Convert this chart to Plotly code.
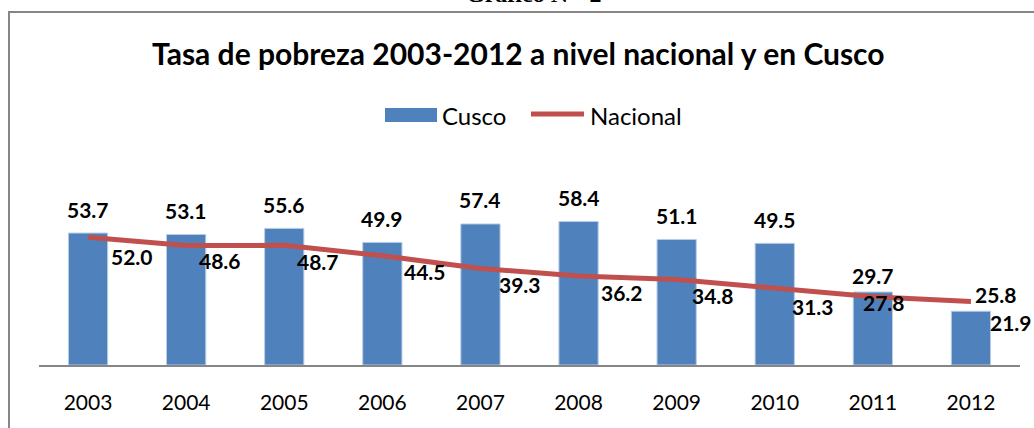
import plotly.graph_objects as go

years = ["2003", "2004", "2005", "2006", "2007", "2008", "2009", "2010", "2011", "2012"]
cusco = [53.7, 53.1, 55.6, 49.9, 57.4, 58.4, 51.1, 49.5, 29.7, 21.9]
nacional = [52.0, 48.6, 48.7, 44.5, 39.3, 36.2, 34.8, 31.3, 27.8, 25.8]

W, H = 1034, 428
def px(x):
    return x / W
def py(y):
    return 1 - y / H

BLUE = "#4F81BD"
RED = "#C0504D"
FONT = "Lato"

fig = go.Figure()
fig.add_trace(go.Bar(x=years, y=cusco, marker=dict(color=BLUE, line=dict(color="#B9CDE5", width=1)),
                     showlegend=False, hoverinfo="skip"))
fig.add_trace(go.Scatter(x=years, y=nacional, mode="lines", line=dict(color=RED, width=5),
                         showlegend=False, hoverinfo="skip"))

# label offsets in pixels (dx, dy upward)
bar_off = [(0, 24)] * 8 + [(0, 17), (40, -11)]
line_off = [(44, -19), (34, -15), (34, -16), (43, -16), (40, -16), (43, -16), (36, -16), (38, -18), (11, -6), (25, 7)]

ann = []
for i, (yr, v) in enumerate(zip(years, cusco)):
    dx, dy = bar_off[i]
    ann.append(dict(x=i, y=v, xref="x", yref="y", text=f"<b>{v:.1f}</b>", showarrow=False,
                    xshift=dx, yshift=dy, font=dict(family=FONT, size=21, color="black")))
for i, (yr, v) in enumerate(zip(years, nacional)):
    dx, dy = line_off[i]
    ann.append(dict(x=i, y=v, xref="x", yref="y", text=f"<b>{v:.1f}</b>", showarrow=False,
                    xshift=dx, yshift=dy, font=dict(family=FONT, size=21, color="black")))

# titles
ann.append(dict(x=px(518), y=py(53), xref="paper", yref="paper", xanchor="center", yanchor="middle",
                text="<b>Tasa de pobreza 2003-2012 a nivel nacional y en Cusco</b>", showarrow=False,
                font=dict(family=FONT, size=30, color="black")))
ann.append(dict(x=px(534), y=py(9), xref="paper", yref="paper", xanchor="center", yanchor="bottom",
                text="<b>Gráfico N°  2</b>", showarrow=False,
                font=dict(family="Liberation Serif", size=24, color="black")))
# legend text
ann.append(dict(x=px(440), y=py(115), xref="paper", yref="paper", xanchor="left", yanchor="middle",
                text="Cusco", showarrow=False, font=dict(family=FONT, size=24, color="black")))
ann.append(dict(x=px(588), y=py(115), xref="paper", yref="paper", xanchor="left", yanchor="middle",
                text="Nacional", showarrow=False, font=dict(family=FONT, size=24, color="black")))

shapes = [
    dict(type="rect", xref="paper", yref="paper", x0=px(385), x1=px(437), y0=py(122), y1=py(108),
         fillcolor=BLUE, line=dict(width=0)),
    dict(type="line", xref="paper", yref="paper", x0=px(531), x1=px(584), y0=py(114), y1=py(114),
         line=dict(color=RED, width=5)),
    dict(type="line", xref="paper", yref="paper", x0=px(9), x1=px(9), y0=py(11), y1=0,
         line=dict(color="#868686", width=2)),
    dict(type="line", xref="paper", yref="paper", x0=px(8), x1=1, y0=py(12), y1=py(12),
         line=dict(color="#868686", width=2)),
]

fig.update_layout(
    width=W, height=H, margin=dict(l=0, r=0, t=0, b=0),
    paper_bgcolor="white", plot_bgcolor="white",
    bargap=0.6,
    annotations=ann, shapes=shapes,
    xaxis=dict(type="category", domain=[px(39), px(1020)], range=[-0.5, 9.5], showline=True,
               linecolor="#868686", linewidth=1.5, showgrid=False, zeroline=False, ticks="",
               tickfont=dict(family=FONT, size=21, color="black"), ticklabelstandoff=18),
    yaxis=dict(domain=[py(365), py(193)], range=[0, 70], showticklabels=False, showline=False,
               showgrid=False, zeroline=False, ticks=""),
)

fig.write_html("out.html", config={"displayModeBar": False},
               post_script="document.body.style.margin='0';")
